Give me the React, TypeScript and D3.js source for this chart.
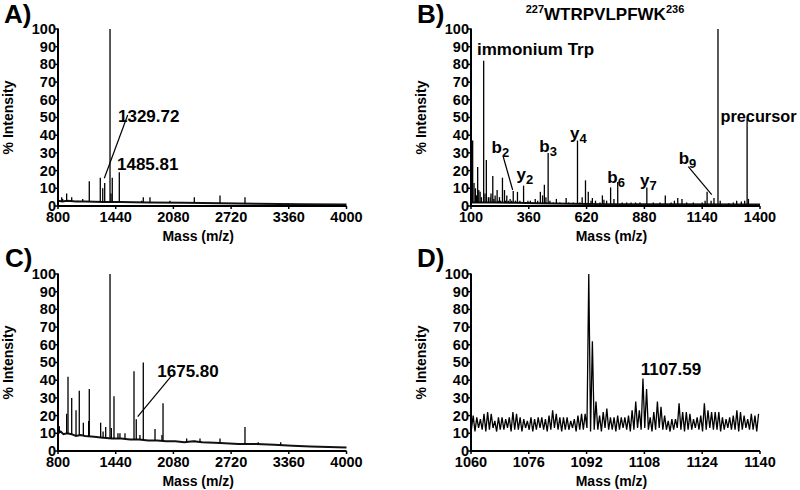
import React from "react";
import * as d3 from "d3";

const FONT = "'Liberation Sans', Arial, Helvetica, sans-serif";

// ---------- tick values ----------
const yTicks = [0, 10, 20, 30, 40, 50, 60, 70, 80, 90, 100];
const ticksAC = [800, 1440, 2080, 2720, 3360, 4000];
const ticksB = [100, 360, 620, 880, 1140, 1400];
const ticksD = [1060, 1076, 1092, 1108, 1124, 1140];

// ---------- Panel A ----------
const peaksA: [number, number][] = [
  [841, 5], [852, 4], [896, 7], [952, 5], [1018, 3], [1074, 4], [1147, 14],
  [1269, 16], [1296, 10], [1318, 13], [1377, 100], [1388, 7], [1402, 16],
  [1480, 19], [1598, 2], [1728, 3], [1746, 5], [1820, 5], [2042, 3],
  [2190, 2], [2312, 5], [2367, 2], [2597, 6], [2874, 5], [3100, 1.5], [3350, 1.5],
];
const baseA: [number, number][] = [
  [800, 3], [850, 2.5], [900, 3], [1000, 2.5], [1100, 2.6], [1300, 2.2], [1500, 2.2],
  [1800, 2], [2200, 1.8], [2600, 1.6], [3000, 1.3], [3500, 1], [4000, 0.8],
];

// ---------- Panel B ----------
const peaksB: [number, number][] = [
  [107.5, 37], [113.6, 13], [120, 10], [125, 6], [130, 22], [135, 9], [141, 8], [147, 5],
  [157, 82], [163, 7], [169, 26], [178, 5], [186, 5], [190, 7], [198, 17], [203, 4],
  [208.5, 6], [217.5, 9], [222, 3], [228, 5], [233, 3], [241.5, 16], [250.6, 9], [255, 3],
  [261, 6], [268, 3], [276, 4], [283, 3], [290, 8.5], [300, 3], [309, 8], [320, 3],
  [336.5, 11.5], [345, 2], [356, 3], [367, 3], [378, 2], [389, 4], [400, 3], [412, 8],
  [422, 6], [430, 12], [437, 5], [447, 30], [455, 3], [470, 2], [484, 4], [500, 2],
  [528, 4.5], [540, 2], [560, 2], [579, 37], [590, 2], [600, 5], [615, 14.5], [627.5, 8],
  [640, 3], [646, 4.5], [660, 3], [680, 2], [691, 6], [698, 3.5], [710, 3], [728, 10.5],
  [743, 4], [760, 13.5], [780, 2], [800, 2], [820, 2], [840, 2], [860, 2], [891, 10.5],
  [920, 2], [950, 2], [974, 6], [1000, 2], [1015, 3], [1030, 4.5], [1049, 4], [1070, 2],
  [1100, 2], [1140, 2], [1153, 3], [1162, 8], [1180, 3], [1193, 4.5], [1211, 100],
  [1221, 3], [1260, 1.5], [1280, 2], [1295, 3], [1316, 2.5], [1331, 3], [1342, 49],
  [1348, 4], [1370, 1],
];
const baseB: [number, number][] = [
  [100, 2], [200, 2], [300, 1.8], [400, 1.5], [700, 1], [1000, 1], [1400, 0.8],
];

// ---------- Panel C ----------
const peaksC: [number, number][] = [
  [815, 14], [896, 21], [911, 42], [952, 30], [1000, 23], [1036, 34], [1081, 16],
  [1140, 17], [1147, 35], [1273, 16], [1300, 11], [1329, 13.5], [1377, 100], [1392, 13],
  [1421, 31], [1465, 10], [1487, 10], [1543, 10], [1643, 45], [1668, 18], [1709, 9],
  [1746, 50], [1876, 12.5], [1953, 9], [1965, 27], [2227, 7], [2319, 6], [2375, 7],
  [2597, 7], [2874, 13.5], [3021, 5], [3270, 5],
];
const baseC: [number, number][] = [
  [800, 10], [830, 11], [860, 9.5], [900, 10], [950, 9.5], [1000, 8.5], [1050, 9],
  [1100, 8.5], [1200, 8], [1300, 7.5], [1400, 7], [1500, 7], [1600, 6.5], [1700, 6.5],
  [1800, 6], [1900, 6], [2000, 5.5], [2100, 5.5], [2200, 5], [2300, 5.5], [2400, 5],
  [2600, 4.5], [2800, 4], [3000, 4], [3200, 3.5], [3400, 3], [3600, 2.5], [3800, 2.2],
  [4000, 2],
];

// ---------- Panel D ----------
const startD = 1060.6; // first noise peak position (m/z)
const peaksD = [
  20, 19, 18, 21, 22, 21, 17, 19, 19, 18, 19, 22, 21, 19, 18, 17, 19, 18, 19, 19,
  18, 20, 23, 21, 19, 19, 19, 17, 18, 20, 21, 21, 100, 62, 28, 20, 22, 24, 19, 19,
  20, 19, 19, 20, 23, 28, 23, 41, 35, 19, 22, 28, 25, 20, 17, 18, 18, 27, 22, 22,
  21, 18, 19, 20, 27, 23, 22, 22, 22, 19, 18, 19, 20, 23, 22, 20, 18, 21, 20, 21,
];
const startValleyD = 1060.1;
const valleysD = [
  12, 11, 13, 12, 11, 12, 13, 11, 12, 12, 13, 11, 12, 12, 11, 13, 12, 11, 12, 13,
  12, 11, 12, 13, 12, 11, 12, 12, 13, 11, 12, 12, 13, 11, 12, 12, 11, 13, 12, 12,
  11, 12, 13, 12, 11, 12, 13, 12, 13, 12, 11, 12, 13, 12, 12, 11, 12, 13, 12, 11,
  12, 12, 13, 12, 11, 12, 13, 12, 12, 11, 12, 13, 12, 12, 11, 12, 13, 12, 12, 11,
];

type P = [number, number];

function Axes({ x, y, xTicks }: { x: d3.ScaleLinear<number, number>; y: d3.ScaleLinear<number, number>; xTicks: number[] }) {
  const [l, r] = x.range();
  const [b, t] = y.range();
  return (
    <g fontFamily={FONT} fontWeight="bold" fontSize={14.5}>
      <line x1={l} x2={l} y1={t - 0.5} y2={b + 1} stroke="#000" strokeWidth={2} />
      <line x1={l - 1} x2={r} y1={b} y2={b} stroke="#000" strokeWidth={2} />
      {yTicks.map((v) => (
        <g key={"y" + v}>
          <line x1={l - 3} x2={l} y1={y(v)} y2={y(v)} stroke="#000" strokeWidth={1.5} />
          <text x={l - 2} y={y(v)} dy="0.34em" textAnchor="end">{v}</text>
        </g>
      ))}
      {xTicks.map((v) => (
        <g key={"x" + v}>
          <line x1={x(v)} x2={x(v)} y1={b} y2={b + 3} stroke="#000" strokeWidth={1.5} />
          <text x={x(v)} y={b + 15.5} textAnchor="middle">{v}</text>
        </g>
      ))}
      <text x={(l + r) / 2 - 4} y={b + 35} textAnchor="middle" fontSize={14}>Mass (m/z)</text>
      <text transform={`translate(${l - 45.5},${(t + b) / 2}) rotate(-90)`} textAnchor="middle" fontSize={14}>% Intensity</text>
    </g>
  );
}

function Stick({ x, y, peaks, base, sw }: { x: d3.ScaleLinear<number, number>; y: d3.ScaleLinear<number, number>; peaks: P[]; base: P[]; sw: number }) {
  const baseAt = d3.scaleLinear().domain(base.map((d) => d[0])).range(base.map((d) => d[1]));
  const line = d3.line<P>().x((d) => x(d[0])).y((d) => y(d[1]));
  return (
    <g>
      <path d={line(base) || ""} fill="none" stroke="#111" strokeWidth={sw} />
      {peaks.map(([m, h], i) => (
        <line key={i} x1={x(m)} x2={x(m)} y1={y(baseAt(m))} y2={y(h)} stroke="#000" strokeWidth={1.3} />
      ))}
    </g>
  );
}

const W = 800;
const H = 490;

export default function App() {
  const yA = d3.scaleLinear().domain([0, 100]).range([206, 29]);
  const yC = d3.scaleLinear().domain([0, 100]).range([451, 274]);
  const xA = d3.scaleLinear().domain([800, 4000]).range([58, 346.5]);
  const xB = d3.scaleLinear().domain([100, 1400]).range([471, 760]);
  const xD = d3.scaleLinear().domain([1060, 1140]).range([471, 760]);

  const ptsD: P[] = [];
  valleysD.forEach((v, i) => ptsD.push([startValleyD + i, v]));
  peaksD.forEach((v, i) => ptsD.push([startD + i, v]));
  ptsD.sort((a, b) => a[0] - b[0]);
  const lineD = d3.line<P>().x((d) => xD(d[0])).y((d) => yC(d[1]));

  const lab = { fontFamily: FONT, fontWeight: "bold" as const };
  const AF = 17;
  const SF = 13;

  return (
    <svg width={W} height={H} style={{ position: "absolute", left: 0, top: 0, background: "#fff" }}>
      <rect width={W} height={H} fill="#fff" />
      {/* Panel labels */}
      <text x={4} y={23} fontSize={26} {...lab}>A)</text>
      <text x={417} y={23} fontSize={26} {...lab}>B)</text>
      <text x={5} y={267} fontSize={26} {...lab}>C)</text>
      <text x={417} y={267} fontSize={26} {...lab}>D)</text>

      {/* Panel A */}
      <Stick x={xA} y={yA} peaks={peaksA} base={baseA} sw={2} />
      <Axes x={xA} y={yA} xTicks={ticksAC} />
      <text x={118} y={122} fontSize={AF} {...lab}>1329.72</text>
      <line x1={127.7} y1={115} x2={104.3} y2={178.3} stroke="#000" strokeWidth={1.2} />
      <text x={117} y={170} fontSize={AF} {...lab}>1485.81</text>

      {/* Panel B */}
      <Stick x={xB} y={yA} peaks={peaksB} base={baseB} sw={2} />
      <Axes x={xB} y={yA} xTicks={ticksB} />
      <text x={605} y={19.5} fontSize={AF} textAnchor="middle" {...lab}>
        <tspan fontSize={11} dy={-7}>227</tspan>
        <tspan dy={7}>WTRPVLPFWK</tspan>
        <tspan fontSize={11} dy={-7}>236</tspan>
      </text>
      <text x={477} y={55} fontSize={AF} {...lab}>immonium Trp</text>
      <text x={491.5} y={152.5} fontSize={AF} {...lab}>b<tspan fontSize={SF} dy={4}>2</tspan></text>
      <line x1={503.3} y1={157} x2={512.7} y2={190} stroke="#000" strokeWidth={1.2} />
      <text x={516.5} y={180} fontSize={AF} {...lab}>y<tspan fontSize={SF} dy={4}>2</tspan></text>
      <text x={539.3} y={151.5} fontSize={AF} {...lab}>b<tspan fontSize={SF} dy={4}>3</tspan></text>
      <text x={570} y={139.3} fontSize={AF} {...lab}>y<tspan fontSize={SF} dy={4}>4</tspan></text>
      <text x={607.3} y={183.3} fontSize={AF} {...lab}>b<tspan fontSize={SF} dy={4}>6</tspan></text>
      <text x={640} y={186} fontSize={AF} {...lab}>y<tspan fontSize={SF} dy={4}>7</tspan></text>
      <text x={678.7} y={164} fontSize={AF} {...lab}>b<tspan fontSize={SF} dy={4}>9</tspan></text>
      <line x1={688.3} y1={166.7} x2={711.7} y2={194.7} stroke="#000" strokeWidth={1.2} />
      <text x={720.5} y={122.3} fontSize={16.3} {...lab}>precursor</text>

      {/* Panel C */}
      <Stick x={xA} y={yC} peaks={peaksC} base={baseC} sw={2} />
      <Axes x={xA} y={yC} xTicks={ticksAC} />
      <text x={157.3} y={376.7} fontSize={AF} {...lab}>1675.80</text>
      <line x1={171.7} y1={375.7} x2={137.7} y2={416.7} stroke="#000" strokeWidth={1.2} />

      {/* Panel D */}
      <path d={lineD(ptsD) || ""} fill="none" stroke="#000" strokeWidth={1.3} />
      <Axes x={xD} y={yC} xTicks={ticksD} />
      <text x={640.7} y={375} fontSize={AF} {...lab}>1107.59</text>
    </svg>
  );
}
